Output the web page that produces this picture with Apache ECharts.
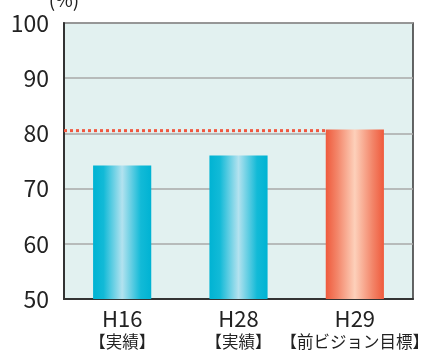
<!DOCTYPE html>
<html><head><meta charset="utf-8">
<script src="https://cdn.jsdelivr.net/npm/echarts@6/dist/echarts.min.js"></script>
<style>html,body{margin:0;padding:0;background:#fff}#c{width:421px;height:354px}</style>
</head><body><div id="c"></div>
<script>
const categories = ['H16', 'H28', 'H29'];
const subLabels = ['【実績】', '【実績】', '【前ビジョン目標】'];
const values = [74.2, 76.0, 80.7];
const targetLine = 80.5;
const yTicks = [50, 60, 70, 80, 90, 100];

const F = '"Noto Sans CJK JP", "Noto Sans", sans-serif';
const blue = {type:'linear',x:0,y:0,x2:1,y2:0,colorStops:[
  {offset:0,color:'#00b3d3'},{offset:0.18,color:'#12bad7'},{offset:0.5,color:'#b3e2ef'},
  {offset:0.82,color:'#12bad7'},{offset:1,color:'#00b3d3'}]};
const red = {type:'linear',x:0,y:0,x2:1,y2:0,colorStops:[
  {offset:0,color:'#ef5a3c'},{offset:0.2,color:'#f3866a'},{offset:0.5,color:'#fdd0ba'},
  {offset:0.8,color:'#f3866a'},{offset:1,color:'#ef5a3c'}]};

const chart = echarts.init(document.getElementById('c'));
chart.setOption({
  animation:false,
  grid:{left:64,right:8,top:23,bottom:55,containLabel:false,outerBoundsMode:'none',
    show:true,backgroundColor:'#e2f1f0',borderColor:'#333',borderWidth:1.5},
  xAxis:[{
    type:'category', data:categories,
    axisLine:{lineStyle:{color:'#333',width:2}},
    axisTick:{inside:true,length:5,lineStyle:{color:'#333'}},
    axisLabel:{interval:0,margin:8,color:'#222',hideOverlap:false,
      formatter:(v,i)=>'{a|'+v+'}\n{b|'+subLabels[i]+'}',
      rich:{
        a:{fontFamily:F,fontSize:22,lineHeight:24,color:'#222'},
        b:{fontFamily:F,fontSize:16.5,lineHeight:22,color:'#222'}
      }}
  },{
    type:'value', min:0, max:3, show:false
  }],
  yAxis:{
    type:'value', min:yTicks[0], max:yTicks[yTicks.length-1], interval:10,
    name:'(%)', nameLocation:'end', nameGap:14,
    nameTextStyle:{fontFamily:F,fontSize:19,color:'#222',align:'center'},
    axisLine:{show:true,lineStyle:{color:'#333',width:2}},
    axisTick:{show:false},
    axisLabel:{fontFamily:F,fontSize:23,color:'#222',margin:15},
    splitLine:{lineStyle:{color:'#a8a8a8',width:1.5}}
  },
  series:[{
    type:'bar', barWidth:'50%',
    data:values.map((v,i)=>({value:v,itemStyle:{color:i===2?red:blue}}))
  },{
    type:'line', xAxisIndex:1, symbol:'none',
    data:[[0,targetLine],[2.25,targetLine]],
    lineStyle:{color:'#f0573f',width:3,type:[3,3]}
  }]
});
</script></body></html>
